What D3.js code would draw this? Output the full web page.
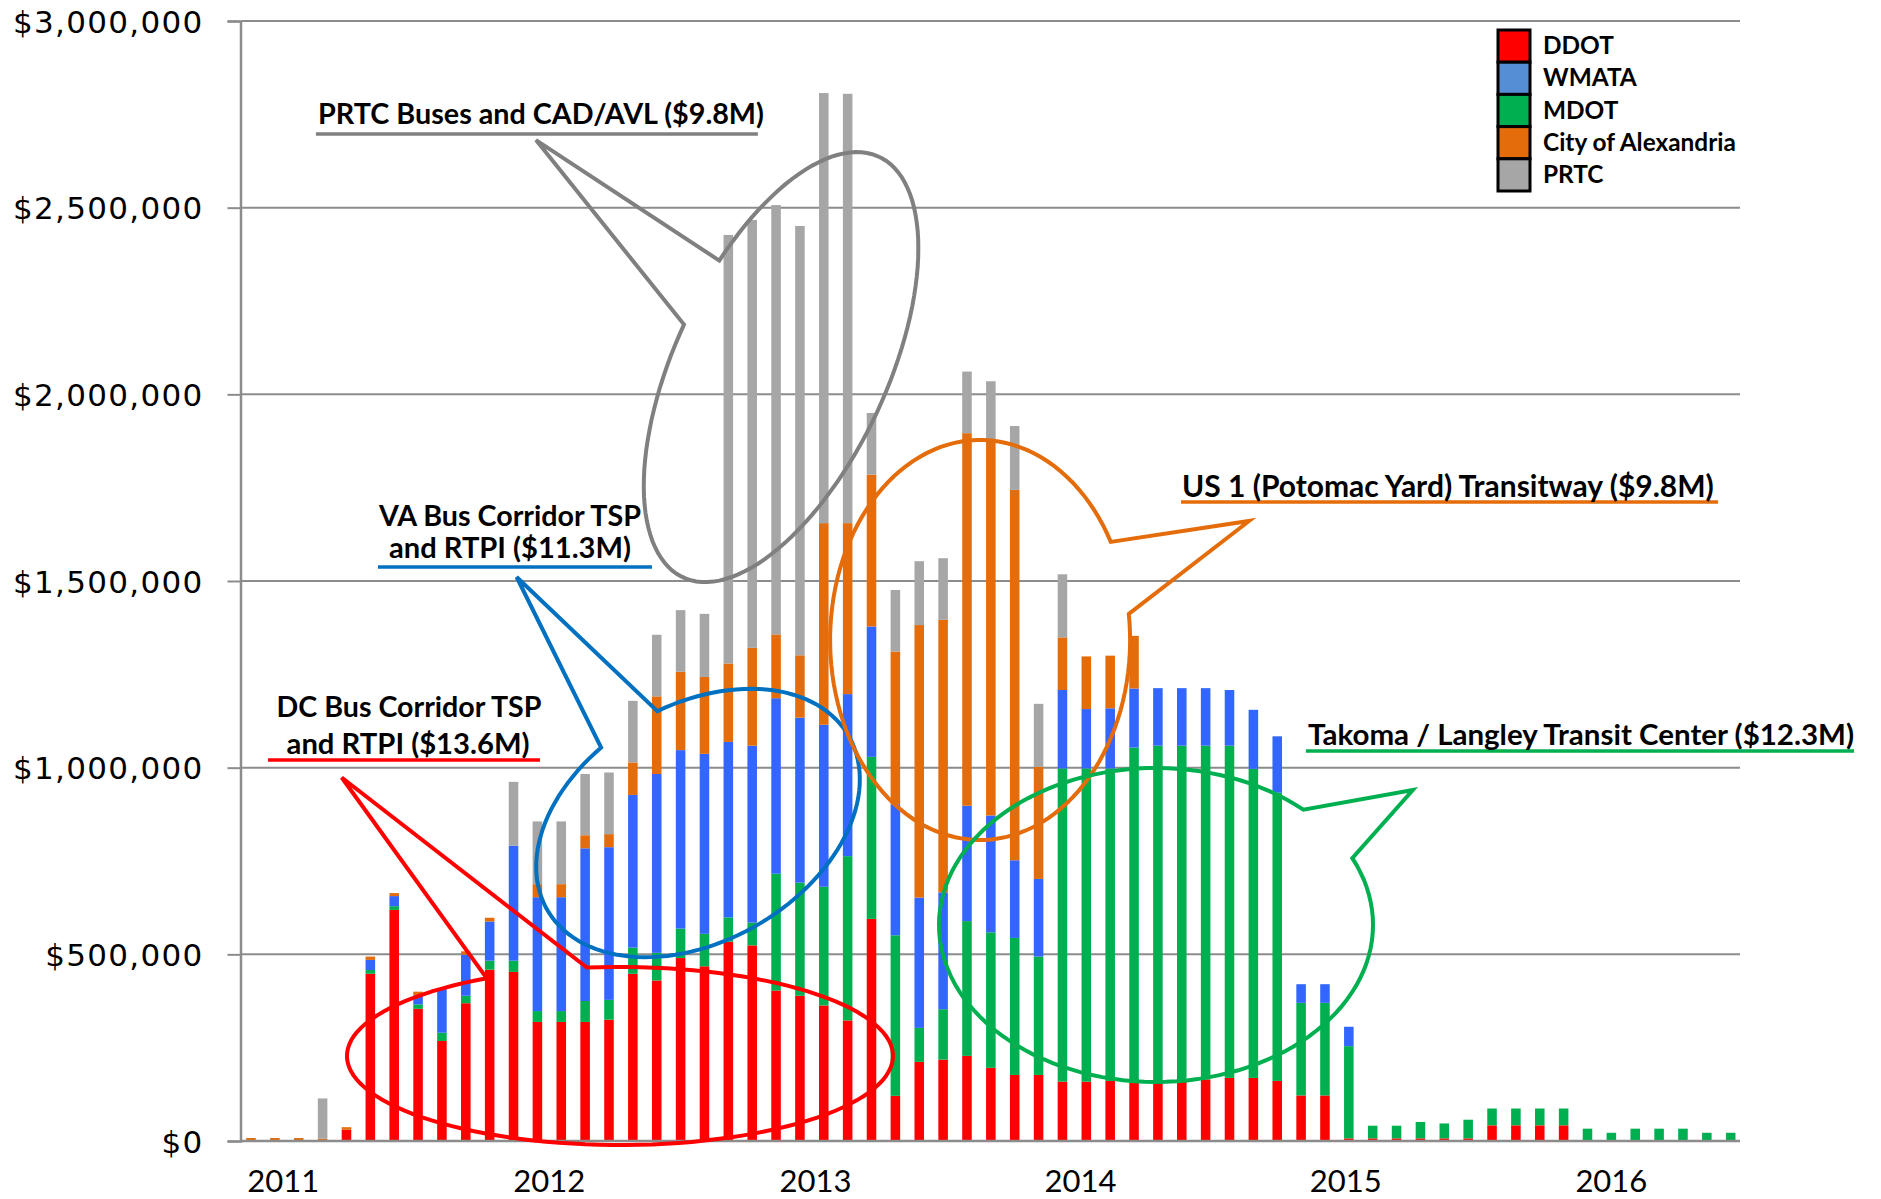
<!DOCTYPE html>
<html lang="en">
<head>
<meta charset="utf-8">
<title>Bus priority grant spending by month</title>
<script src="https://d3js.org/d3.v7.min.js"></script>
<style>
  body { margin: 0; background: #fff; }
  svg { display: block; }
</style>
</head>
<body>
<div id="chart"></div>
<script>
// one bar per month, values in $ thousands
var periods = d3.range(63);

var ddot = [0, 0, 0, 0, 30, 448, 619, 354, 268, 369, 459, 453, 319, 319, 319, 325,
  448, 430, 490, 468, 534, 524, 403, 389, 363, 323, 595, 121, 212, 218, 228, 196,
  177, 177, 159, 159, 161, 156, 158, 158, 165, 169, 169, 161, 122, 122, 7, 7,
  7, 7, 7, 7, 42, 42, 42, 42, 0, 0, 0, 0, 0, 0, 0];
var mdot = [0, 0, 0, 0, 0, 10, 10, 12, 22, 20, 24, 30, 29, 29, 56, 53,
  70, 74, 79, 87, 65, 61, 313, 303, 318, 440, 434, 430, 91, 135, 361, 363,
  367, 317, 839, 839, 837, 898, 901, 901, 894, 890, 828, 772, 248, 248, 247, 34,
  34, 44, 40, 50, 45, 45, 45, 45, 33, 22, 33, 33, 33, 22, 22];
var wmata = [0, 0, 0, 0, 0, 27, 27, 24, 120, 110, 105, 308, 305, 305, 409, 409,
  409, 479, 478, 482, 470, 474, 470, 442, 434, 434, 349, 351, 349, 313, 309, 313,
  208, 208, 210, 159, 161, 158, 154, 154, 154, 149, 158, 151, 50, 50, 52, 0,
  0, 0, 0, 0, 0, 0, 0, 0, 0, 0, 0, 0, 0, 0, 0];
var alexandria = [8, 8, 8, 6, 7, 9, 8, 10, 0, 9, 10, 0, 35, 35, 35, 35,
  87, 208, 210, 206, 210, 262, 171, 167, 540, 458, 407, 409, 730, 730, 998, 1008,
  992, 300, 141, 141, 141, 141, 0, 0, 0, 0, 0, 0, 0, 0, 0, 0,
  0, 0, 0, 0, 0, 0, 0, 0, 0, 0, 0, 0, 0, 0, 0];
var prtc = [0, 0, 0, 108, 0, 0, 0, 0, 0, 0, 0, 171, 168, 168, 164, 165,
  165, 165, 165, 169, 1148, 1146, 1150, 1150, 1152, 1150, 165, 165, 171, 165, 165, 155,
  171, 169, 169, 0, 0, 0, 0, 0, 0, 0, 0, 0, 0, 0, 0, 0,
  0, 0, 0, 0, 0, 0, 0, 0, 0, 0, 0, 0, 0, 0, 0];

var yearLabels = ["2011", "2012", "2013", "2014", "2015", "2016"];
var yearPos = [1.35, 12.5, 23.65, 34.76, 45.87, 57.0];   // in bar units
var yTicks = [0, 500, 1000, 1500, 2000, 2500, 3000];

var stackKeys = ["DDOT", "MDOT", "WMATA", "City of Alexandria", "PRTC"];
var legendKeys = ["DDOT", "WMATA", "MDOT", "City of Alexandria", "PRTC"];
var colors = {
  "DDOT": "#FF0000", "WMATA": "#3366FF", "MDOT": "#00B050",
  "City of Alexandria": "#E46C0A", "PRTC": "#A6A6A6"
};
var legendColors = {
  "DDOT": "#FF0000", "WMATA": "#558ED5", "MDOT": "#00B050",
  "City of Alexandria": "#E46C0A", "PRTC": "#A6A6A6"
};

var rows = periods.map(function (p, i) {
  return {
    period: p, "DDOT": ddot[i], "MDOT": mdot[i], "WMATA": wmata[i],
    "City of Alexandria": alexandria[i], "PRTC": prtc[i]
  };
});

var W = 1881, H = 1199;
var svg = d3.select("#chart").append("svg").attr("width", W).attr("height", H);

var x = d3.scaleBand().domain(periods).range([241.7, 1740])
  .paddingInner(0.6).paddingOuter(0.19);
var bw = x.bandwidth();
// fractional bar position -> pixel centre
var xc = d3.scaleLinear().domain([0, 62]).range([x(0) + bw / 2, x(62) + bw / 2]);
var y = d3.scaleLinear().domain([0, 3000]).range([1141, 21]);

// gridlines
svg.append("g").selectAll("line").data(yTicks.filter(function (d) { return d > 0; }))
  .join("line")
  .attr("x1", 241.7).attr("x2", 1740)
  .attr("y1", function (d) { return y(d); }).attr("y2", function (d) { return y(d); })
  .attr("stroke", "#8C8C8C").attr("stroke-width", 2);

// y axis
var yAxis = svg.append("g").attr("transform", "translate(240.5,0)")
  .call(d3.axisLeft(y).tickValues(yTicks).tickSize(13).tickPadding(24)
    .tickFormat(function (d) { return "$" + d3.format(",")(d * 1000); }));
yAxis.select(".domain").attr("stroke", "#8C8C8C").attr("stroke-width", 2.5);
yAxis.selectAll(".tick line").attr("stroke", "#8C8C8C").attr("stroke-width", 2);
yAxis.selectAll(".tick text")
  .attr("font-family", "'DejaVu Sans', Verdana, sans-serif")
  .attr("font-size", 31).attr("letter-spacing", 1.3)
  .attr("fill", "#000").attr("dy", "0.36em");

// bars
var series = d3.stack().keys(stackKeys)(rows);
svg.append("g").selectAll("g").data(series).join("g")
  .attr("fill", function (s) { return colors[s.key]; })
  .selectAll("rect").data(function (s) { return s; }).join("rect")
  .attr("x", function (d) { return x(d.data.period); })
  .attr("width", bw)
  .attr("y", function (d) { return y(d[1]); })
  .attr("height", function (d) { return y(d[0]) - y(d[1]); });

// x baseline
svg.append("line").attr("x1", 240).attr("x2", 1740).attr("y1", y(0)).attr("y2", y(0))
  .attr("stroke", "#8C8C8C").attr("stroke-width", 2.5);

// year labels
svg.append("g").selectAll("text").data(yearLabels).join("text")
  .attr("x", function (d, i) { return xc(yearPos[i]); })
  .attr("y", 1192)
  .attr("text-anchor", "middle")
  .attr("font-family", "Lato, 'Open Sans', sans-serif")
  .attr("font-size", 31)
  .text(function (d) { return d; });

// call-out bubbles, placed in bar/value space
var callouts = [
  { color: "#808080", c: [22.21, 2073], rx: 232, ry: 106, rot: -65,
    p1: [17.89, 2194], p2: [19.36, 2387], tip: [11.94, 2681],
    lines: [{ t: "PRTC Buses and CAD/AVL ($9.8M)", x: 12.15, v: 2724, w: 446 }],
    under: [2.72, 21.24, 2697] },
  { color: "#FF0000", c: [15.46, 227.7], rx: 273, ry: 89, rot: 0,
    p1: [9.93, 433.9], p2: [14.08, 463.4], tip: [3.80, 973.7],
    lines: [{ t: "DC Bus Corridor TSP", x: 6.62, v: 1135.7, w: 265 },
            { t: "and RTPI ($13.6M)", x: 6.58, v: 1036.6, w: 243 }],
    under: [0.71, 12.11, 1020.5] },
  { color: "#0070C0", c: [18.73, 851.8], rx: 174, ry: 118, rot: -30,
    p1: [14.83, 1045.7], p2: [17.05, 1146.4], tip: [11.13, 1510.7],
    lines: [{ t: "VA Bus Corridor TSP", x: 10.85, v: 1648, w: 262 },
            { t: "and RTPI ($11.3M)", x: 10.85, v: 1561.6, w: 242 }],
    under: [5.32, 16.80, 1537.5] },
  { color: "#E46C0A", c: [30.55, 1342], rx: 150, ry: 200, rot: 0,
    p1: [35.99, 1603.1], p2: [36.75, 1411.6], tip: [41.82, 1660.7],
    lines: [{ t: "US 1 (Potomac Yard) Transitway ($9.8M)", x: 50.15, v: 1725, w: 532 }],
    under: [38.97, 61.47, 1711.6] },
  { color: "#00B050", c: [37.92, 578.6], rx: 217, ry: 157, rot: 0,
    p1: [44.08, 886.6], p2: [46.09, 756.7], tip: [48.68, 940.2],
    lines: [{ t: "Takoma / Langley Transit Center ($12.3M)", x: 55.73, v: 1060.7, w: 546 }],
    under: [44.20, 67.17, 1044.7] }
];

function bubblePath(o) {
  var cx = xc(o.c[0]), cy = y(o.c[1]);
  var th = o.rot * Math.PI / 180, ct = Math.cos(th), st = Math.sin(th);
  function param(p) {
    var dx = xc(p[0]) - cx, dy = y(p[1]) - cy;
    var lx = dx * ct + dy * st, ly = -dx * st + dy * ct;
    return Math.atan2(ly / o.ry, lx / o.rx);
  }
  function pt(t) {
    return [cx + o.rx * Math.cos(t) * ct - o.ry * Math.sin(t) * st,
            cy + o.rx * Math.cos(t) * st + o.ry * Math.sin(t) * ct];
  }
  var t1 = param(o.p1), t2 = param(o.p2), TAU = Math.PI * 2;
  var d = ((t2 - t1) % TAU + TAU) % TAU;
  var start, len;
  if (d < Math.PI) { start = t2; len = TAU - d; } else { start = t1; len = d; }
  var pts = d3.range(0, 121).map(function (k) { return pt(start + len * k / 120); });
  pts.push([xc(o.tip[0]), y(o.tip[1])]);
  return "M" + pts.map(function (p) { return p[0].toFixed(1) + "," + p[1].toFixed(1); }).join("L") + "Z";
}

var cg = svg.append("g");
callouts.forEach(function (o) {
  cg.append("path").attr("d", bubblePath(o))
    .attr("fill", "none").attr("stroke", o.color).attr("stroke-width", 4)
    .attr("stroke-linejoin", "miter");
  cg.append("line")
    .attr("x1", xc(o.under[0])).attr("x2", xc(o.under[1]))
    .attr("y1", y(o.under[2])).attr("y2", y(o.under[2]))
    .attr("stroke", o.color).attr("stroke-width", 3.5);
  o.lines.forEach(function (l) {
    var t = cg.append("text")
      .attr("x", xc(l.x)).attr("y", y(l.v))
      .attr("text-anchor", "middle")
      .attr("font-family", "Lato, 'Open Sans', sans-serif")
      .attr("font-weight", "bold")
      .style("font-size", "28px")
      .text(l.t);
    fit(t, l.w);
  });
});

function fit(sel, w) {
  var fs = parseFloat(sel.style("font-size"));
  var len = sel.node().getComputedTextLength();
  if (len > 0) sel.style("font-size", (fs * w / len).toFixed(2) + "px");
}

// legend
var lg = svg.append("g").attr("transform", "translate(1498,30)");
var sw = 32, sh = 32.2;
legendKeys.forEach(function (k, i) {
  lg.append("rect").attr("x", 0).attr("y", i * sh).attr("width", sw).attr("height", sh)
    .attr("fill", legendColors[k]).attr("stroke", "#000").attr("stroke-width", 3);
});
var lt = lg.selectAll("text").data(legendKeys).join("text")
  .attr("x", 45).attr("y", function (d, i) { return i * sh + sh / 2 + 8; })
  .attr("font-family", "Lato, 'Open Sans', sans-serif")
  .attr("font-weight", "bold")
  .style("font-size", "22px")
  .text(function (d) { return d; });
var ca = lt.filter(function (d) { return d === "City of Alexandria"; });
fit(ca, 193);
lt.style("font-size", ca.style("font-size"));
</script>
</body>
</html>
